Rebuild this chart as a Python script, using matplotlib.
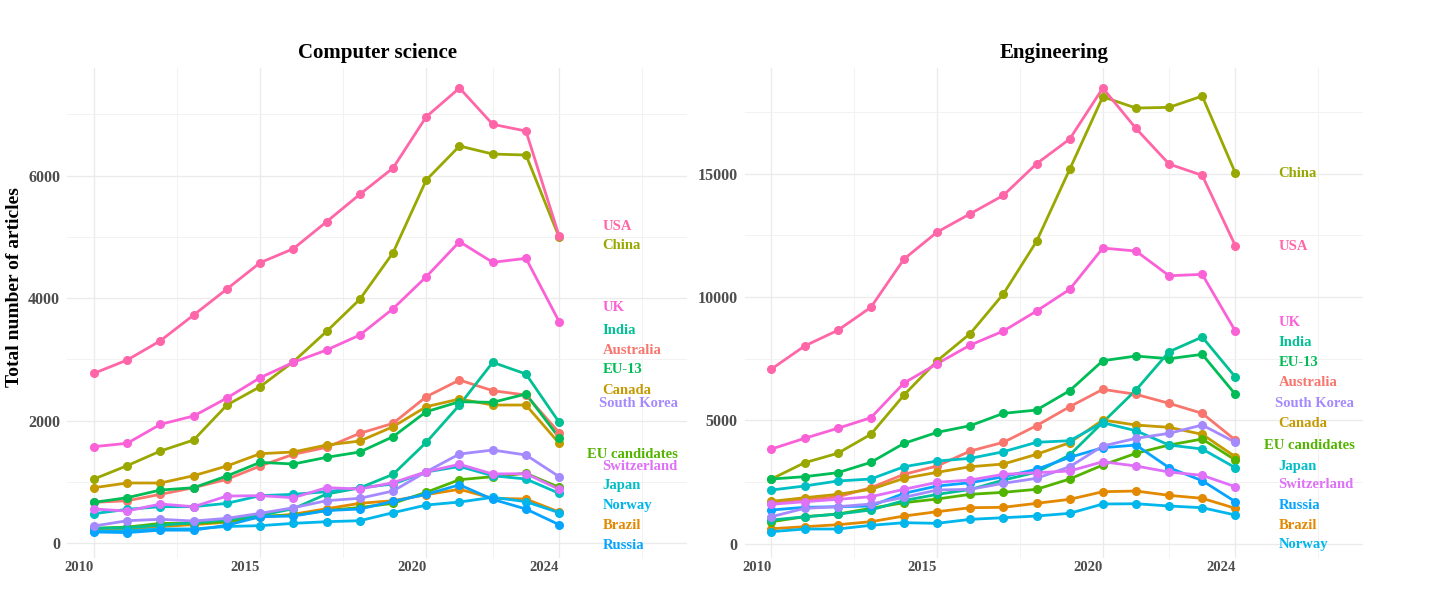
import numpy as np
import matplotlib
matplotlib.use("Agg")
import matplotlib.pyplot as plt

years = list(range(2010, 2025))
countries = ['Australia', 'Brazil', 'Canada', 'China', 'EU candidates', 'EU-13', 'India',
             'Japan', 'Norway', 'Russia', 'South Korea', 'Switzerland', 'UK', 'USA']

# Computer science
cs_australia = [664, 690, 795, 903, 1040, 1257, 1448, 1562, 1791, 1954, 2389, 2661, 2487, 2416, 1801]
cs_brazil = [200, 230, 270, 300, 340, 420, 470, 560, 648, 691, 790, 877, 730, 718, 506]
cs_canada = [903, 980, 980, 1099, 1257, 1458, 1486, 1600, 1665, 1899, 2226, 2351, 2253, 2253, 1628]
cs_china = [1045, 1263, 1502, 1682, 2253, 2552, 2960, 3455, 3979, 4740, 5927, 6482, 6351, 6335, 4990]
cs_eu_cand = [240, 260, 320, 320, 350, 440, 450, 530, 580, 648, 828, 1034, 1083, 1138, 909]
cs_eu13 = [664, 740, 865, 903, 1094, 1317, 1290, 1399, 1486, 1736, 2144, 2307, 2297, 2433, 1719]
cs_india = [240, 250, 290, 330, 380, 450, 560, 800, 900, 1121, 1644, 2253, 2950, 2759, 1970]
cs_japan = [479, 550, 593, 593, 648, 773, 795, 838, 900, 963, 1160, 1250, 1099, 1045, 811]
cs_norway = [190, 200, 230, 230, 270, 283, 321, 348, 364, 495, 620, 669, 746, 675, 495]
cs_russia = [180, 170, 210, 210, 290, 430, 440, 530, 555, 680, 795, 950, 713, 555, 299]
cs_skorea = [278, 364, 387, 359, 403, 485, 576, 691, 730, 849, 1164, 1453, 1518, 1437, 1083]
cs_switz = [555, 522, 637, 593, 767, 773, 740, 903, 882, 985, 1164, 1285, 1127, 1132, 877]
cs_uk = [1573, 1628, 1938, 2074, 2367, 2699, 2950, 3151, 3396, 3826, 4348, 4920, 4583, 4648, 3614]
cs_usa = [2771, 2988, 3303, 3723, 4147, 4577, 4805, 5246, 5693, 6123, 6960, 7429, 6836, 6727, 5010]

# Engineering
eng_australia = [1650, 1780, 1900, 2271, 2814, 3151, 3759, 4112, 4786, 5556, 6260, 6058, 5693, 5287, 4205]
eng_brazil = [608, 689, 770, 892, 1123, 1298, 1460, 1476, 1638, 1800, 2109, 2137, 1962, 1841, 1435]
eng_canada = [1719, 1865, 2003, 2206, 2652, 2895, 3122, 3232, 3625, 4096, 5016, 4813, 4720, 4436, 3528]
eng_china = [2624, 3285, 3666, 4436, 6030, 7415, 8525, 10130, 12262, 15182, 18126, 17668, 17696, 18154, 15032]
eng_eu_cand = [892, 1095, 1204, 1435, 1663, 1813, 2003, 2084, 2206, 2624, 3191, 3666, 4002, 4246, 3394]
eng_eu13 = [2624, 2718, 2880, 3299, 4070, 4516, 4786, 5287, 5421, 6205, 7421, 7611, 7502, 7680, 6058]
eng_india = [961, 1090, 1200, 1367, 1750, 2000, 2200, 2580, 2900, 3597, 4923, 6232, 7786, 8382, 6760]
eng_japan = [2178, 2340, 2543, 2624, 3122, 3353, 3462, 3731, 4112, 4177, 4907, 4582, 4002, 3840, 3082]
eng_norway = [487, 596, 596, 746, 852, 827, 989, 1054, 1123, 1232, 1610, 1622, 1529, 1460, 1164]
eng_russia = [1367, 1476, 1500, 1529, 2044, 2340, 2474, 2718, 3017, 3503, 3893, 4002, 3082, 2555, 1703]
eng_skorea = [1095, 1435, 1500, 1610, 1882, 2178, 2206, 2449, 2652, 3122, 3962, 4274, 4477, 4813, 4112]
eng_switz = [1598, 1703, 1800, 1906, 2206, 2490, 2583, 2814, 2880, 2948, 3325, 3151, 2907, 2773, 2311]
eng_uk = [3840, 4274, 4680, 5109, 6517, 7300, 8057, 8625, 9436, 10316, 11991, 11869, 10867, 10924, 8625]
eng_usa = [7084, 8017, 8653, 9586, 11544, 12639, 13381, 14128, 15409, 16410, 18478, 16844, 15397, 14938, 12084]

cs = dict(zip(countries, [cs_australia, cs_brazil, cs_canada, cs_china, cs_eu_cand, cs_eu13, cs_india,
                          cs_japan, cs_norway, cs_russia, cs_skorea, cs_switz, cs_uk, cs_usa]))
eng = dict(zip(countries, [eng_australia, eng_brazil, eng_canada, eng_china, eng_eu_cand, eng_eu13, eng_india,
                           eng_japan, eng_norway, eng_russia, eng_skorea, eng_switz, eng_uk, eng_usa]))

# label placement (repelled text positions, y in data units)
cs_label_y = {'USA': 5176, 'China': 4854, 'UK': 3842, 'India': 3478, 'Australia': 3151, 'EU-13': 2825,
              'Canada': 2498, 'South Korea': 2281, 'EU candidates': 1453, 'Switzerland': 1257,
              'Japan': 936, 'Norway': 620, 'Brazil': 294, 'Russia': -33}
eng_label_y = {'China': 15020, 'USA': 12043, 'UK': 8978, 'India': 8151, 'EU-13': 7340, 'Australia': 6529,
               'South Korea': 5693, 'Canada': 4882, 'EU candidates': 4002, 'Japan': 3151,
               'Switzerland': 2409, 'Russia': 1569, 'Brazil': 758, 'Norway': -24}
label_x = {'EU candidates': 2024.85, 'South Korea': 2025.2}


def hcl_hex(h, c=100, l=65):
    # polar LUV -> sRGB, same as R's hcl()
    xn, yn, zn = 95.047, 100.0, 108.883
    d = xn + 15 * yn + 3 * zn
    un, vn = 4 * xn / d, 9 * yn / d
    u, v = c * np.cos(np.radians(h)), c * np.sin(np.radians(h))
    Y = yn * ((l + 16) / 116) ** 3
    up, vp = u / (13 * l) + un, v / (13 * l) + vn
    X = 9 * Y * up / (4 * vp)
    Z = Y * (12 - 3 * up - 20 * vp) / (4 * vp)
    m = np.array([[3.240479, -1.537150, -0.498535],
                  [-0.969256, 1.875992, 0.041556],
                  [0.055648, -0.204043, 1.057311]])
    rgb = m @ (np.array([X, Y, Z]) / 100)
    rgb = np.where(rgb <= 0.0031308, 12.92 * rgb, 1.055 * np.abs(rgb) ** (1 / 2.4) - 0.055)
    rgb = np.clip(rgb, 0, 1)
    return '#%02x%02x%02x' % tuple(int(round(x * 255)) for x in rgb)


hues = np.linspace(15, 375, len(countries) + 1)[:-1]
colors = dict(zip(countries, [hcl_hex(h) for h in hues]))

plt.rcParams['font.family'] = ['Liberation Serif', 'DejaVu Serif']
plt.rcParams['font.weight'] = 'bold'

fig = plt.figure(figsize=(14.3, 5.97), dpi=100)
ax1 = fig.add_axes([0.0469, 0.0653, 0.4336, 0.8207])
ax2 = fig.add_axes([0.5207, 0.0653, 0.4324, 0.8207])

panels = [
    (ax1, cs, cs_label_y, 'Computer science', (-245, 7755), [0, 2000, 4000, 6000], [1000, 3000, 5000, 7000]),
    (ax2, eng, eng_label_y, 'Engineering', (-580, 19290), [0, 5000, 10000, 15000], [2500, 7500, 12500, 17500]),
]

for ax, data, lab_y, title, ylim, yt, ytm in panels:
    for c in countries:
        ax.plot(years, data[c], color=colors[c], lw=2.0, zorder=3, solid_capstyle='butt')
    for c in countries:
        ax.plot(years, data[c], 'o', color=colors[c], ms=5.5, zorder=4)
    for c in countries:
        ax.text(label_x.get(c, 2025.3), lab_y[c], c, color=colors[c], fontsize=10.5,
                fontweight='bold', ha='left', va='center', zorder=5)

    ax.set_xlim(2009.19, 2027.85)
    ax.set_ylim(*ylim)
    ax.set_xticks([2010, 2015, 2020, 2024])
    ax.set_xticks([2012.5, 2017.5, 2022, 2026.5], minor=True)
    ax.set_yticks(yt)
    ax.set_yticks(ytm, minor=True)
    ax.set_xticklabels(['2010', '2015', '2020', '2024'], ha='right')
    ax.grid(True, which='major', color='#ebebeb', lw=1.0, zorder=0)
    ax.grid(True, which='minor', color='#f2f2f2', lw=0.7, zorder=0)
    for s in ax.spines.values():
        s.set_visible(False)
    ax.tick_params(which='both', length=0)
    ax.tick_params(axis='x', labelsize=10.5, labelcolor='#4d4d4d', pad=2)
    ax.tick_params(axis='y', labelsize=11.5, labelcolor='#4d4d4d', pad=5)
    ax.set_title(title, fontsize=15, fontweight='bold', pad=7)

fig.text(0.0098, 0.519, 'Total number of articles', rotation=90, fontsize=14,
         fontweight='bold', ha='center', va='center')

fig.savefig('out.png', dpi=100, facecolor='white')
